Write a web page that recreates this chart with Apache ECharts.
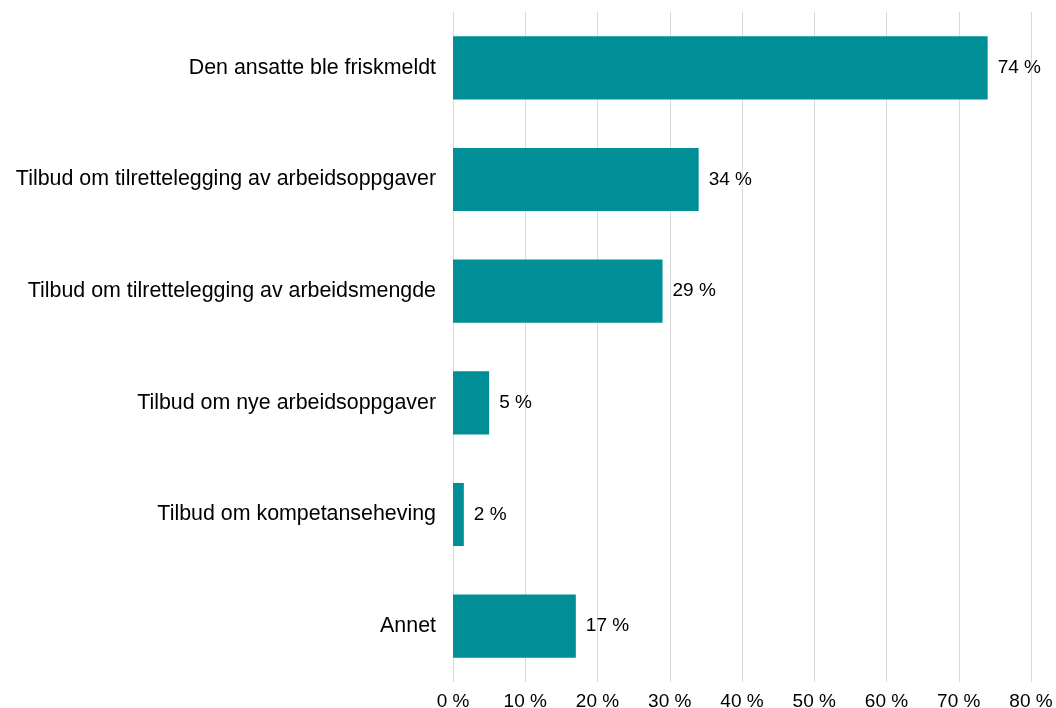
<!DOCTYPE html>
<html>
<head>
<meta charset="utf-8">
<script src="https://cdn.jsdelivr.net/npm/echarts@6/dist/echarts.min.js"></script>
<style>
  html, body { margin: 0; padding: 0; background: #fff; }
  #chart { width: 1056px; height: 708px; }
</style>
</head>
<body>
<div id="chart"></div>
<script>
var categories = [
    "Den ansatte ble friskmeldt",
    "Tilbud om tilrettelegging av arbeidsoppgaver",
    "Tilbud om tilrettelegging av arbeidsmengde",
    "Tilbud om nye arbeidsoppgaver",
    "Tilbud om kompetanseheving",
    "Annet"
];
var values = [74, 34, 29, 5, 1.5, 17];
var xTicks = [0, 10, 20, 30, 40, 50, 60, 70, 80];

var font = "'Liberation Sans', Arial, sans-serif";

var option = {
    backgroundColor: "#fff",
    animation: false,
    grid: {
        left: 453,
        right: 25,
        top: 12,
        bottom: 26,
        outerBoundsMode: "none"
    },
    xAxis: {
        type: "value",
        min: xTicks[0],
        max: xTicks[xTicks.length - 1],
        interval: 10,
        axisLine: { show: false },
        axisTick: { show: false },
        splitLine: {
            show: true,
            lineStyle: { color: "#d9d9d9", width: 1 }
        },
        axisLabel: {
            color: "#000",
            fontFamily: font,
            fontSize: 19,
            margin: 10,
            formatter: function (v) { return v + " %"; }
        }
    },
    yAxis: {
        type: "category",
        inverse: true,
        data: categories,
        axisLine: { show: false },
        axisTick: { show: false },
        axisLabel: {
            color: "#000",
            fontFamily: font,
            fontSize: 21.4,
            margin: 17
        }
    },
    series: [{
        type: "bar",
        data: values,
        barCategoryGap: "43.5%",
        itemStyle: { color: "#008f96" },
        label: {
            show: true,
            position: "right",
            distance: 10,
            color: "#000",
            fontFamily: font,
            fontSize: 19,
            formatter: function (p) { return Math.round(p.value) + " %"; }
        }
    }]
};

var myChart = echarts.init(document.getElementById("chart"));
myChart.setOption(option);
</script>
</body>
</html>
